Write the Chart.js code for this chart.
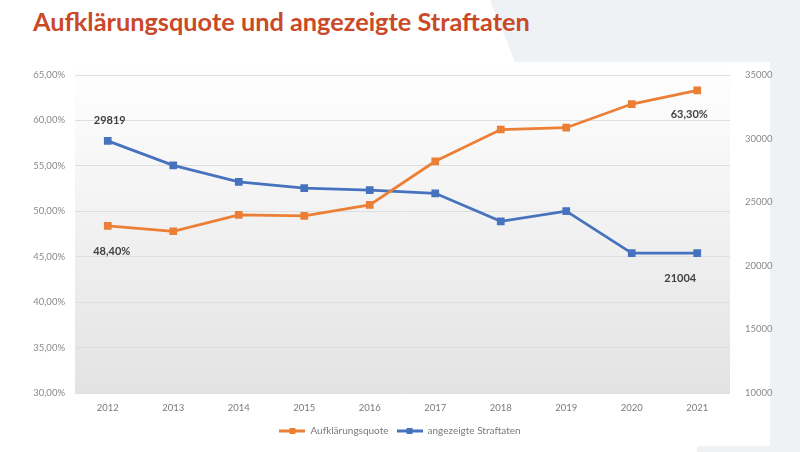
<!DOCTYPE html>
<html>
<head>
<meta charset="utf-8">
<script src="https://cdn.jsdelivr.net/npm/chart.js@4/dist/chart.umd.min.js"></script>
<style>
  html, body { margin:0; padding:0; width:800px; height:452px; overflow:hidden; background:#ffffff; }
  #bg { position:absolute; left:0; top:0; width:800px; height:452px; background:#eef2f5;
        clip-path: polygon(490px 0, 800px 0, 800px 452px, 697px 452px, 697px 446px, 770px 446px, 770px 62px, 515px 62px); }
  #title { position:absolute; left:33px; top:6px; font-family: Lato, "Open Sans", sans-serif; font-weight:700;
           font-size:26px; color:#c94a28; white-space:nowrap; }
  #wrap { position:absolute; left:0; top:0; width:800px; height:452px; }
</style>
</head>
<body>
<div id="bg"></div>
<div id="title">Aufklärungsquote und angezeigte Straftaten</div>
<div id="wrap"><canvas id="c" width="800" height="452"></canvas></div>
<script>
const years = ['2012','2013','2014','2015','2016','2017','2018','2019','2020','2021'];
const aufklaerungsquote = [48.4, 47.8, 49.6, 49.5, 50.7, 55.5, 59.0, 59.2, 61.8, 63.3];
const angezeigteStraftaten = [29819, 27900, 26600, 26100, 25950, 25700, 23500, 24300, 21000, 21004];
const seriesNames = ['Aufklärungsquote', 'angezeigte Straftaten'];
const leftTicks = [30, 35, 40, 45, 50, 55, 60, 65];
const rightTicks = [10000, 15000, 20000, 25000, 30000, 35000];
// data labels: [datasetIndex, pointIndex, text]
const dataLabels = [[1, 0, '29819'], [0, 0, '48,40%'], [0, 9, '63,30%'], [1, 9, '21004']];

// fit title width
(function(){
  const t = document.getElementById('title');
  const w = t.getBoundingClientRect().width;
  const target = 497;
  t.style.fontSize = (26 * target / w).toFixed(2) + 'px';
})();

const ORANGE = '#eb7f35';
const BLUE = '#4672be';
const COLORS = [ORANGE, BLUE];

function legendIcon(color){
  const cv = document.createElement('canvas');
  cv.width = 26; cv.height = 10;
  const g = cv.getContext('2d');
  g.strokeStyle = color; g.lineWidth = 3;
  g.beginPath(); g.moveTo(0,5); g.lineTo(26,5); g.stroke();
  g.fillStyle = color; g.fillRect(10,2,6,6);
  return cv;
}
const ICONS = COLORS.map(legendIcon);

const bgPlugin = {
  id: 'plotBg',
  beforeDraw(chart){
    const {ctx, chartArea:a} = chart;
    const g = ctx.createLinearGradient(0, a.top - 12, 0, a.bottom);
    g.addColorStop(0, '#ffffff');
    g.addColorStop(1, '#e3e3e3');
    ctx.save();
    ctx.fillStyle = g;
    ctx.fillRect(a.left, a.top - 12, a.right - a.left, a.bottom - a.top + 12);
    ctx.restore();
  }
};

const labelPlugin = {
  id: 'dataLbl',
  afterDatasetsDraw(chart){
    const ctx = chart.ctx;
    ctx.save();
    ctx.font = 'bold 11px Lato, "Open Sans", sans-serif';
    ctx.fillStyle = '#404040';
    ctx.textAlign = 'center';
    ctx.textBaseline = 'middle';
    dataLabels.forEach(([ds, i, txt]) => {
      const p = chart.getDatasetMeta(ds).data[i];
      let dx = 0, dy = 0;
      if (ds === 1 && i === 0) { dx = 2; dy = -20; }
      else if (ds === 0 && i === 0) { dx = 4; dy = 26; }
      else if (ds === 0) { dx = -8; dy = 24; }
      else { dx = -17; dy = 25; }
      ctx.fillText(txt, p.x + dx, p.y + dy);
    });
    ctx.restore();
  }
};

const tickFont = { family: 'Lato, "Open Sans", sans-serif', size: 9.5 };

new Chart(document.getElementById('c'), {
  type: 'line',
  data: {
    labels: years,
    datasets: [
      { label: seriesNames[0], data: aufklaerungsquote, yAxisID: 'y', borderColor: ORANGE, backgroundColor: ORANGE,
        borderWidth: 2.75, pointStyle: 'rect', tension: 0 },
      { label: seriesNames[1], data: angezeigteStraftaten, yAxisID: 'y1', borderColor: BLUE, backgroundColor: BLUE,
        borderWidth: 2.75, pointStyle: 'rect', tension: 0 }
    ]
  },
  options: {
    responsive: false,
    animation: false,
    devicePixelRatio: 1,
    elements: { point: { radius: 3.5 } },
    layout: { padding: { top: 75, bottom: 6, left: 0, right: 0 } },
    plugins: {
      legend: {
        position: 'bottom',
        labels: {
          usePointStyle: true,
          pointStyleWidth: 26,
          padding: 8,
          color: '#7a7a7a',
          font: { family: 'Lato, "Open Sans", sans-serif', size: 10 },
          generateLabels(chart){
            const items = Chart.defaults.plugins.legend.labels.generateLabels(chart);
            items.forEach((it, k) => { it.pointStyle = ICONS[k]; });
            return items;
          }
        }
      },
      tooltip: { enabled: false }
    },
    scales: {
      x: {
        offset: true,
        grid: { display: false, drawTicks: false },
        border: { display: false },
        ticks: { color: '#7a7a7a', font: tickFont, padding: 9 },
        afterFit(s){ s.height = 25; }
      },
      y: {
        position: 'left',
        min: 30, max: 65,
        afterBuildTicks(s){ s.ticks = leftTicks.map(v => ({ value: v })); },
        ticks: { color: '#8a8a8a', font: tickFont, padding: 10,
                 callback: v => v.toFixed(2).replace('.', ',') + '%' },
        grid: { color: '#dedede', drawTicks: false, lineWidth: 1 },
        border: { display: false },
        afterFit(s){ s.width = 75; }
      },
      y1: {
        position: 'right',
        min: 10000, max: 35000,
        afterBuildTicks(s){ s.ticks = rightTicks.map(v => ({ value: v })); },
        ticks: { color: '#8a8a8a', font: tickFont, padding: 15, callback: v => String(v) },
        grid: { display: false, drawTicks: false },
        border: { display: false },
        afterFit(s){ s.width = 70; }
      }
    }
  },
  plugins: [bgPlugin, labelPlugin]
});
</script>
</body>
</html>
